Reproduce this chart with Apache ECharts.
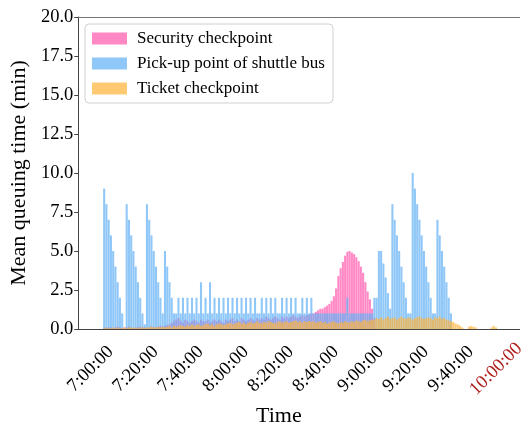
<!DOCTYPE html>
<html>
<head>
<meta charset="utf-8">
<script src="https://cdn.jsdelivr.net/npm/echarts@6/dist/echarts.min.js"></script>
<style>
html,body{margin:0;padding:0;background:#fff;}
#chart{width:528px;height:429px;}
</style>
</head>
<body>
<div id="chart"></div>
<script>
// Tick labels shown on the time axis
const tickLabels = ['7:00:00','7:20:00','7:40:00','8:00:00','8:20:00','8:40:00','9:00:00','9:20:00','9:40:00','10:00:00'];

// Per-minute values from 7:00 (index 0) to 10:00 (index 180), minutes
const securityCheckpoint = [
  0,0,0,0,0,0,
  0.1,0.05,0.1,0.1,0.05,0.1,0.15,0.1,0.05,0.1,0.1,0.15,0.1,0.05,0.1,0.1,0.15,0.1,0.1,0.05,0.1,0.15,0.1,0.1,0.15,0.2,0.15,0.2,
  0.25,0.3,0.4,0.5,0.6,0.7,
  0.5,0.4,0.6,0.5,0.4,0.5,0.6,0.5,0.4,0.6,
  0.5,0.5,0.6,0.4,0.5,0.6,0.5,0.6,0.5,0.4,
  0.6,0.5,0.6,0.7,0.5,0.6,0.5,0.7,0.6,0.5,
  0.6,0.7,0.6,0.5,0.7,0.6,0.7,0.6,0.8,0.7,
  0.6,0.7,0.8,0.7,0.6,0.8,0.7,0.8,0.7,0.8,
  0.9,0.8,0.7,0.8,0.9,0.8,0.9,0.9,
  1.0,1.0,1.1,1.2,1.3,1.3,1.4,1.5,1.6,1.8,2.1,2.6,3.4,3.9,4.3,4.7,4.95,5.0,4.9,4.8,4.6,4.35,4.0,3.6,3.0,2.4,1.9,1.3,0.7,
  0,0,0,0,0,0,0,0,0,0,0,0,0,0,0,0,0,0,0,0,0,0,0,0,0,0,0,
  0,0,0,0,0,0,0,0,0,0,0,0,0,0,0,0,0,0,0,0,0,0,0,0,0,0,0
];
const shuttleBusPickup = [
  0,0,0,0,0,0,
  9.0,8.0,7.0,6.0,5.0,4.0,3.0,2.0,1.0,
  0,
  8.0,7.0,6.0,5.0,4.0,3.0,2.0,1.0,
  0.3,
  8.0,7.0,6.0,5.0,4.0,3.0,2.0,1.0,
  5.0,4.0,3.0,2.0,1.0,1.0,
  2.0,
  1,2,1,2,1,2,1,2,1,3,1,2,1,3,1,2,1,2,1,2,1,2,1,2,1,2,1,2,1,2,1,2,1,2,1,1,2,1,2,1,2,1,2,1,1,2,1,2,1,2,1,2,1,1,2,1,2,1,2,
  1,1,1,1,1,1,1,1,1,1,1,1,1,1,1,2,1,1,1,1,1,1,1,1,1,1,1,
  2.0,2.0,
  5.0,5.0,4.2,3.3,2.3,1.3,
  8.0,7.0,6.0,5.0,4.0,3.0,2.0,1.0,
  1.0,
  10.0,9.0,8.0,7.0,6.0,5.0,4.0,3.0,2.0,1.0,
  1.0,
  7.0,6.0,5.0,4.0,3.0,2.0,1.0,
  0,0,0,0,0,0,0,0,0,0,0,0,0,0,0,0,0,0,0,0
];
const ticketCheckpoint = [
  0,0,0,0,0,0,
  0.05,0.1,0.05,0.05,0.1,0.05,0.1,0.05,0.05,0.1,0.05,0.1,0.1,0.05,0.1,0.05,0.1,0.1,0.05,0.1,0.1,0.15,0.1,0.1,0.15,0.1,0.15,0.1,
  0.15,0.2,0.1,0.2,0.15,0.2,0.25,0.2,0.15,0.25,0.2,0.3,0.2,0.25,0.3,0.2,0.25,0.3,0.35,0.25,0.3,0.2,0.3,0.35,0.3,0.25,
  0.3,0.35,0.4,0.3,0.35,0.4,0.45,0.35,0.4,0.3,
  0.4,0.45,0.35,0.4,0.5,0.4,0.35,0.45,0.4,0.5,
  0.45,0.4,0.35,0.45,0.5,0.4,0.45,0.5,0.4,0.45,
  0.5,0.55,0.45,0.5,0.4,0.5,0.45,0.5,
  0.45,0.5,0.4,0.45,0.5,0.4,0.45,0.35,0.4,0.45,0.5,0.4,0.35,0.45,0.4,0.5,0.45,0.4,0.5,0.45,0.55,0.5,0.45,0.55,0.6,0.5,0.55,0.6,
  0.6,0.7,0.65,0.75,0.6,0.7,0.8,0.65,0.7,0.75,
  0.6,0.7,0.8,0.7,0.65,0.75,0.7,0.6,0.7,0.75,
  0.8,0.7,0.65,0.7,0.75,0.7,0.6,0.75,0.7,0.8,
  0.65,0.7,0.6,0.55,0.5,
  0.45,0.35,0.3,0.2,0.1,0,0,0.15,0.2,0.15,0.1,0,0,0,0,0,0,0.1,0.2,0.1
];

// Axis spans 6:55 .. 10:10 in one-minute categories
const startMinute = 6*60 + 55;
const endMinute = 10*60 + 10;
const categories = [];
for (let m = startMinute; m <= endMinute; m++) {
  const h = Math.floor(m/60), mm = m % 60;
  categories.push(h + ':' + (mm < 10 ? '0' : '') + mm + ':00');
}
const offset = 7*60 - startMinute;
function pad(arr) {
  const out = new Array(categories.length).fill(null);
  arr.forEach((v, i) => { out[i + offset] = v; });
  return out;
}

const serif = '"Liberation Serif", "Times New Roman", serif';
const isTick = (idx) => tickLabels.indexOf(categories[idx]) >= 0;

const chart = echarts.init(document.getElementById('chart'), null, {renderer: 'canvas'});
chart.setOption({
  animation: false,
  backgroundColor: '#fff',
  grid: {left: 77, right: 0, top: 17, bottom: 100},
  legend: {
    orient: 'vertical',
    left: 85, top: 24,
    padding: [6, 8, 6, 7],
    itemWidth: 35, itemHeight: 12, itemGap: 8,
    borderColor: '#d0d0d0', borderWidth: 1, borderRadius: 4,
    backgroundColor: '#fff',
    icon: 'rect',
    textStyle: {fontFamily: serif, fontSize: 17, color: '#000', padding: [0, 0, 0, 5]},
    data: ['Security checkpoint', 'Pick-up point of shuttle bus', 'Ticket checkpoint']
  },
  xAxis: [{
    type: 'category',
    data: categories,
    boundaryGap: true,
    axisLine: {lineStyle: {color: '#444', width: 1}},
    axisTick: {alignWithLabel: true, interval: (i) => isTick(i), length: 4, lineStyle: {color: '#444'}},
    axisLabel: {
      interval: (i) => isTick(i),
      rotate: 45,
      align: 'center',
      verticalAlign: 'middle',
      margin: 40,
      fontFamily: serif,
      fontSize: 18.5,
      color: '#000',
      formatter: (v) => v === '10:00:00' ? '{r|' + v + '}' : '{k|' + v + '}',
      rich: {
        r: {color: '#b0201c', fontFamily: serif, fontSize: 18.5},
        k: {color: '#000', fontFamily: serif, fontSize: 18.5}
      }
    },
    splitLine: {show: false}
  }, {
    type: 'value',
    position: 'top',
    axisLine: {show: true, onZero: false, lineStyle: {color: '#777', width: 1}},
    axisTick: {show: false},
    axisLabel: {show: false},
    splitLine: {show: false}
  }],
  yAxis: {
    type: 'value',
    min: 0, max: 20, interval: 2.5,
    name: 'Mean queuing time (min)',
    nameLocation: 'middle',
    nameGap: 44,
    nameTextStyle: {fontFamily: serif, fontSize: 22, color: '#000'},
    axisLine: {show: true, lineStyle: {color: '#444', width: 1}},
    axisTick: {show: true, length: 4, lineStyle: {color: '#444'}},
    axisLabel: {fontFamily: serif, fontSize: 18.5, color: '#000', margin: 5, formatter: (v) => v.toFixed(1)},
    splitLine: {show: false}
  },
  graphic: [{
    type: 'text',
    left: 278 - 22, top: 405,
    style: {text: 'Time', fontFamily: serif, fontSize: 22, fill: '#000'}
  }],
  series: [{
    name: 'Security checkpoint',
    type: 'bar',
    data: pad(securityCheckpoint),
    barGap: '-100%',
    barCategoryGap: '8%',
    itemStyle: {color: 'rgba(255,90,175,0.72)'}
  }, {
    name: 'Pick-up point of shuttle bus',
    type: 'bar',
    data: pad(shuttleBusPickup),
    barGap: '-100%',
    barCategoryGap: '8%',
    itemStyle: {color: 'rgba(100,178,245,0.72)'}
  }, {
    name: 'Ticket checkpoint',
    type: 'bar',
    data: pad(ticketCheckpoint),
    barGap: '-100%',
    barCategoryGap: '8%',
    itemStyle: {color: 'rgba(255,180,60,0.72)'}
  }]
});
</script>
</body>
</html>
